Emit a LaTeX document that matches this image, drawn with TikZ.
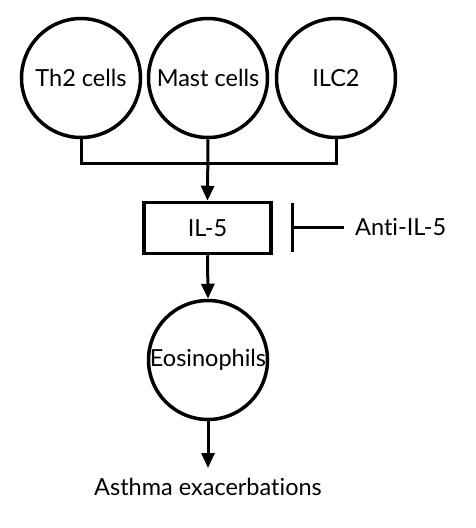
\documentclass[tikz,border=0pt]{standalone}
\usepackage{fontspec}
\setmainfont{Lato}[RawFeature=-liga]
\usetikzlibrary{arrows.meta}
\begin{document}
\begin{tikzpicture}[x=1pt,y=-1pt,
  txt/.style={font=\fontsize{23.5}{26}\selectfont},
  cell/.style={circle,draw,line width=3.5pt,minimum size=119pt,inner sep=0pt,txt},
  boxnode/.style={draw,line width=3.5pt,minimum width=127pt,minimum height=51pt,inner sep=0pt,txt},
  lbl/.style={inner sep=0pt,txt},
  conn/.style={line width=3pt},
  arr/.style={line width=3pt,-{Triangle[length=15pt,width=13pt]}}]
\useasboundingbox (0,0) rectangle (475,528);
\node[cell] (th2) at (81,78) {Th2 cells};
\node[cell] (mast) at (208,78) {Mast cells};
\node[cell] (ilc) at (336,78) {ILC2};
\node[boxnode] (il5) at (207.5,228) {IL-5};
\node[cell] (eos) at (208,360) {Eosinophils};
\node[lbl,anchor=west] (anti) at (355,227) {Anti-IL-5};
\node[lbl] (asthma) at (208,487) {Asthma exacerbations};
\coordinate (j1) at (81,163);
\coordinate (j3) at (336,163);
\coordinate (bartop) at (292,203);
\coordinate (barbot) at (292,252);
\coordinate (barmid) at (292,227);
\draw[conn] (th2.south) -- (j1) -- (j3) -- (ilc.south);
\draw[arr] (mast.south) -- (il5.north);
\draw[arr] (il5.south) -- (eos.north);
\draw[arr,shorten >=10pt] (eos.south) -- (asthma.north);
\draw[conn] (bartop) -- (barbot);
\draw[conn] ([xshift=-11pt]anti.west) -- (barmid);
\end{tikzpicture}
\end{document}
